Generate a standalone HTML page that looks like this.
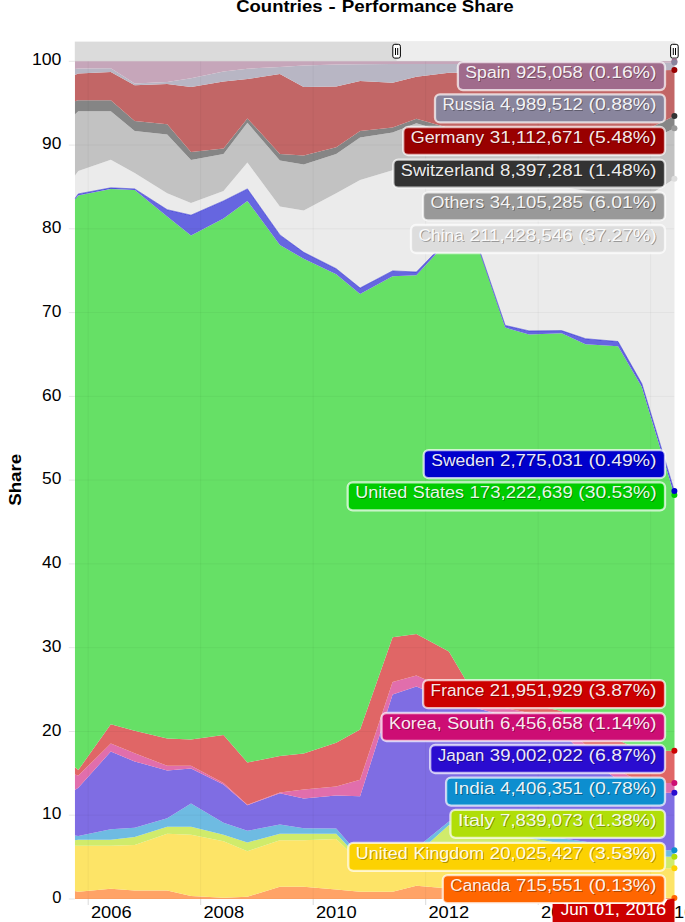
<!DOCTYPE html>
<html><head><meta charset="utf-8"><title>Countries - Performance Share</title>
<style>html,body{margin:0;padding:0;background:#fff;overflow:hidden}svg{display:block}text{font-family:"Liberation Sans",sans-serif;}</style></head><body>
<svg width="685" height="922" viewBox="0 0 685 922">
<defs><clipPath id="cp"><rect x="74.8" y="41.6" width="599.7" height="857.4"/></clipPath>
<filter id="sh" x="-5%" y="-20%" width="110%" height="150%"><feGaussianBlur stdDeviation="0.6"/></filter>
</defs>
<rect width="685" height="922" fill="#fff"/>
<rect x="74.8" y="41.6" width="599.7" height="19.7" fill="#dbdbdb"/>
<rect x="396.6" y="41.6" width="277.9" height="19.7" fill="#ededed"/>
<g clip-path="url(#cp)">
<path d="M74.8,891.0 L78.3,891.7 L110.8,888.8 L134.7,890.6 L167.2,890.6 L191.0,896.0 L223.5,897.8 L247.4,896.7 L279.9,886.7 L303.7,886.7 L336.2,889.5 L360.1,891.7 L392.6,891.7 L416.4,885.8 L448.9,888.4 L472.8,889.5 L505.2,890.9 L529.1,892.0 L561.6,893.4 L585.5,894.5 L618.0,895.9 L641.8,897.0 L674.3,897.9 L675.5,897.9 L675.5,899.0 L674.3,899.0 L641.8,899.0 L618.0,899.0 L585.5,899.0 L561.6,899.0 L529.1,899.0 L505.2,899.0 L472.8,899.0 L448.9,899.0 L416.4,899.0 L392.6,899.0 L360.1,899.0 L336.2,899.0 L303.7,899.0 L279.9,899.0 L247.4,899.0 L223.5,899.0 L191.0,899.0 L167.2,899.0 L134.7,899.0 L110.8,899.0 L78.3,899.0 L74.8,899.0Z" fill="#ffa366"/>
<path d="M74.8,845.7 L78.3,845.7 L110.8,845.7 L134.7,845.1 L167.2,833.7 L191.0,834.8 L223.5,841.3 L247.4,851.2 L279.9,840.2 L303.7,840.2 L336.2,839.1 L360.1,862.0 L392.6,857.0 L416.4,857.0 L448.9,848.0 L472.8,850.5 L505.2,853.8 L529.1,856.3 L561.6,859.7 L585.5,862.2 L618.0,865.5 L641.8,868.0 L674.3,868.3 L675.5,868.3 L675.5,897.9 L674.3,897.9 L641.8,897.0 L618.0,895.9 L585.5,894.5 L561.6,893.4 L529.1,892.0 L505.2,890.9 L472.8,889.5 L448.9,888.4 L416.4,885.8 L392.6,891.7 L360.1,891.7 L336.2,889.5 L303.7,886.7 L279.9,886.7 L247.4,896.7 L223.5,897.8 L191.0,896.0 L167.2,890.6 L134.7,890.6 L110.8,888.8 L78.3,891.7 L74.8,891.0Z" fill="#fde467"/>
<path d="M74.8,840.2 L78.3,839.8 L110.8,839.8 L134.7,837.0 L167.2,826.7 L191.0,826.7 L223.5,834.8 L247.4,842.4 L279.9,833.7 L303.7,833.7 L336.2,833.7 L360.1,859.0 L392.6,853.0 L416.4,854.3 L448.9,825.0 L472.8,828.9 L505.2,834.2 L529.1,838.1 L561.6,843.5 L585.5,847.4 L618.0,852.7 L641.8,856.6 L674.3,856.8 L675.5,856.8 L675.5,868.3 L674.3,868.3 L641.8,868.0 L618.0,865.5 L585.5,862.2 L561.6,859.7 L529.1,856.3 L505.2,853.8 L472.8,850.5 L448.9,848.0 L416.4,857.0 L392.6,857.0 L360.1,862.0 L336.2,839.1 L303.7,840.2 L279.9,840.2 L247.4,851.2 L223.5,841.3 L191.0,834.8 L167.2,833.7 L134.7,845.1 L110.8,845.7 L78.3,845.7 L74.8,845.7Z" fill="#d0eb6b"/>
<path d="M74.8,835.4 L78.3,835.9 L110.8,829.3 L134.7,827.8 L167.2,818.3 L191.0,803.5 L223.5,822.7 L247.4,830.8 L279.9,824.5 L303.7,828.2 L336.2,828.6 L360.1,856.0 L392.6,850.0 L416.4,848.0 L448.9,821.6 L472.8,825.1 L505.2,829.9 L529.1,833.4 L561.6,838.2 L585.5,841.7 L618.0,846.5 L641.8,850.0 L674.3,850.2 L675.5,850.2 L675.5,856.8 L674.3,856.8 L641.8,856.6 L618.0,852.7 L585.5,847.4 L561.6,843.5 L529.1,838.1 L505.2,834.2 L472.8,828.9 L448.9,825.0 L416.4,854.3 L392.6,853.0 L360.1,859.0 L336.2,833.7 L303.7,833.7 L279.9,833.7 L247.4,842.4 L223.5,834.8 L191.0,826.7 L167.2,826.7 L134.7,837.0 L110.8,839.8 L78.3,839.8 L74.8,840.2Z" fill="#6ebbe2"/>
<path d="M74.8,789.9 L78.3,787.7 L110.8,751.6 L134.7,761.4 L167.2,770.6 L191.0,768.6 L223.5,784.4 L247.4,805.2 L279.9,793.2 L303.7,798.6 L336.2,795.4 L360.1,796.3 L392.6,694.6 L416.4,686.5 L448.9,700.0 L472.8,707.0 L505.2,716.0 L529.1,722.0 L561.6,732.0 L585.5,756.0 L618.0,780.0 L641.8,793.0 L674.3,792.7 L675.5,792.7 L675.5,850.2 L674.3,850.2 L641.8,850.0 L618.0,846.5 L585.5,841.7 L561.6,838.2 L529.1,833.4 L505.2,829.9 L472.8,825.1 L448.9,821.6 L416.4,848.0 L392.6,850.0 L360.1,856.0 L336.2,828.6 L303.7,828.2 L279.9,824.5 L247.4,830.8 L223.5,822.7 L191.0,803.5 L167.2,818.3 L134.7,827.8 L110.8,829.3 L78.3,835.9 L74.8,835.4Z" fill="#7f6de3"/>
<path d="M74.8,774.5 L78.3,775.6 L110.8,743.5 L134.7,753.3 L167.2,765.8 L191.0,765.8 L223.5,782.9 L247.4,804.8 L279.9,792.5 L303.7,789.5 L336.2,786.6 L360.1,779.8 L392.6,682.1 L416.4,675.5 L448.9,690.0 L472.8,700.0 L505.2,708.0 L529.1,713.0 L561.6,722.0 L585.5,745.0 L618.0,770.0 L641.8,783.0 L674.3,783.1 L675.5,783.1 L675.5,792.7 L674.3,792.7 L641.8,793.0 L618.0,780.0 L585.5,756.0 L561.6,732.0 L529.1,722.0 L505.2,716.0 L472.8,707.0 L448.9,700.0 L416.4,686.5 L392.6,694.6 L360.1,796.3 L336.2,795.4 L303.7,798.6 L279.9,793.2 L247.4,805.2 L223.5,784.4 L191.0,768.6 L167.2,770.6 L134.7,761.4 L110.8,751.6 L78.3,787.7 L74.8,789.9Z" fill="#e16eac"/>
<path d="M74.8,766.9 L78.3,770.0 L110.8,724.2 L134.7,730.8 L167.2,738.4 L191.0,739.5 L223.5,735.1 L247.4,762.5 L279.9,755.9 L303.7,753.5 L336.2,742.8 L360.1,729.5 L392.6,637.2 L416.4,633.9 L448.9,651.5 L472.8,692.0 L505.2,700.0 L529.1,704.0 L561.6,711.0 L585.5,725.0 L618.0,740.0 L641.8,751.0 L674.3,750.7 L675.5,750.7 L675.5,783.1 L674.3,783.1 L641.8,783.0 L618.0,770.0 L585.5,745.0 L561.6,722.0 L529.1,713.0 L505.2,708.0 L472.8,700.0 L448.9,690.0 L416.4,675.5 L392.6,682.1 L360.1,779.8 L336.2,786.6 L303.7,789.5 L279.9,792.5 L247.4,804.8 L223.5,782.9 L191.0,765.8 L167.2,765.8 L134.7,753.3 L110.8,743.5 L78.3,775.6 L74.8,774.5Z" fill="#e06666"/>
<path d="M74.8,199.8 L78.3,195.5 L110.8,188.9 L134.7,190.0 L167.2,216.5 L191.0,235.5 L223.5,218.5 L247.4,200.9 L279.9,245.0 L303.7,258.8 L336.2,274.2 L360.1,293.9 L392.6,276.3 L416.4,275.2 L448.9,240.0 L472.8,231.5 L505.2,327.6 L529.1,334.6 L561.6,333.3 L585.5,344.2 L618.0,346.3 L641.8,386.9 L674.3,495.0 L675.5,495.0 L675.5,750.7 L674.3,750.7 L641.8,751.0 L618.0,740.0 L585.5,725.0 L561.6,711.0 L529.1,704.0 L505.2,700.0 L472.8,692.0 L448.9,651.5 L416.4,633.9 L392.6,637.2 L360.1,729.5 L336.2,742.8 L303.7,753.5 L279.9,755.9 L247.4,762.5 L223.5,735.1 L191.0,739.5 L167.2,738.4 L134.7,730.8 L110.8,724.2 L78.3,770.0 L74.8,766.9Z" fill="#66e066"/>
<path d="M74.8,198.7 L78.3,193.9 L110.8,187.8 L134.7,188.9 L167.2,209.7 L191.0,215.2 L223.5,200.9 L247.4,188.9 L279.9,234.9 L303.7,252.3 L336.2,268.7 L360.1,288.0 L392.6,270.9 L416.4,272.0 L448.9,238.5 L472.8,230.5 L505.2,325.4 L529.1,330.9 L561.6,330.6 L585.5,338.7 L618.0,341.5 L641.8,383.6 L674.3,490.9 L675.5,490.9 L675.5,495.0 L674.3,495.0 L641.8,386.9 L618.0,346.3 L585.5,344.2 L561.6,333.3 L529.1,334.6 L505.2,327.6 L472.8,231.5 L448.9,240.0 L416.4,275.2 L392.6,276.3 L360.1,293.9 L336.2,274.2 L303.7,258.8 L279.9,245.0 L247.4,200.9 L223.5,218.5 L191.0,235.5 L167.2,216.5 L134.7,190.0 L110.8,188.9 L78.3,195.5 L74.8,199.8Z" fill="#6666e0"/>
<path d="M74.8,175.8 L78.3,170.9 L110.8,159.8 L134.7,172.9 L167.2,193.3 L191.0,203.1 L223.5,191.1 L247.4,162.6 L279.9,206.4 L303.7,210.4 L336.2,193.3 L360.1,180.1 L392.6,170.3 L416.4,162.6 L448.9,168.0 L472.8,171.9 L505.2,177.3 L529.1,181.3 L561.6,186.7 L585.5,190.7 L618.0,196.0 L641.8,200.0 L674.3,178.7 L675.5,178.7 L675.5,490.9 L674.3,490.9 L641.8,383.6 L618.0,341.5 L585.5,338.7 L561.6,330.6 L529.1,330.9 L505.2,325.4 L472.8,230.5 L448.9,238.5 L416.4,272.0 L392.6,270.9 L360.1,288.0 L336.2,268.7 L303.7,252.3 L279.9,234.9 L247.4,188.9 L223.5,200.9 L191.0,215.2 L167.2,209.7 L134.7,188.9 L110.8,187.8 L78.3,193.9 L74.8,198.7Z" fill="#ebebeb"/>
<path d="M74.8,114.4 L78.3,111.2 L110.8,111.2 L134.7,130.9 L167.2,134.6 L191.0,160.0 L223.5,153.9 L247.4,122.8 L279.9,160.4 L303.7,164.4 L336.2,153.9 L360.1,137.4 L392.6,132.4 L416.4,123.2 L448.9,133.0 L472.8,134.4 L505.2,136.2 L529.1,137.6 L561.6,139.4 L585.5,140.8 L618.0,142.6 L641.8,144.0 L674.3,128.3 L675.5,128.3 L675.5,178.7 L674.3,178.7 L641.8,200.0 L618.0,196.0 L585.5,190.7 L561.6,186.7 L529.1,181.3 L505.2,177.3 L472.8,171.9 L448.9,168.0 L416.4,162.6 L392.6,170.3 L360.1,180.1 L336.2,193.3 L303.7,210.4 L279.9,206.4 L247.4,162.6 L223.5,191.1 L191.0,203.1 L167.2,193.3 L134.7,172.9 L110.8,159.8 L78.3,170.9 L74.8,175.8Z" fill="#c2c2c2"/>
<path d="M74.8,101.3 L78.3,100.2 L110.8,100.2 L134.7,121.0 L167.2,124.3 L191.0,152.1 L223.5,148.4 L247.4,118.4 L279.9,153.9 L303.7,155.6 L336.2,147.3 L360.1,130.9 L392.6,127.6 L416.4,118.8 L448.9,128.0 L472.8,128.5 L505.2,129.2 L529.1,129.7 L561.6,130.3 L585.5,130.8 L618.0,131.5 L641.8,132.0 L674.3,115.9 L675.5,115.9 L675.5,128.3 L674.3,128.3 L641.8,144.0 L618.0,142.6 L585.5,140.8 L561.6,139.4 L529.1,137.6 L505.2,136.2 L472.8,134.4 L448.9,133.0 L416.4,123.2 L392.6,132.4 L360.1,137.4 L336.2,153.9 L303.7,164.4 L279.9,160.4 L247.4,122.8 L223.5,153.9 L191.0,160.0 L167.2,134.6 L134.7,130.9 L110.8,111.2 L78.3,111.2 L74.8,114.4Z" fill="#858585"/>
<path d="M74.8,75.0 L78.3,73.5 L110.8,72.0 L134.7,85.2 L167.2,84.0 L191.0,87.0 L223.5,81.6 L247.4,79.0 L279.9,73.9 L303.7,87.1 L336.2,86.6 L360.1,80.9 L392.6,82.7 L416.4,76.8 L448.9,72.8 L472.8,72.5 L505.2,72.1 L529.1,71.8 L561.6,71.5 L585.5,71.2 L618.0,70.8 L641.8,70.5 L674.3,70.0 L675.5,70.0 L675.5,115.9 L674.3,115.9 L641.8,132.0 L618.0,131.5 L585.5,130.8 L561.6,130.3 L529.1,129.7 L505.2,129.2 L472.8,128.5 L448.9,128.0 L416.4,118.8 L392.6,127.6 L360.1,130.9 L336.2,147.3 L303.7,155.6 L279.9,153.9 L247.4,118.4 L223.5,148.4 L191.0,152.1 L167.2,124.3 L134.7,121.0 L110.8,100.2 L78.3,100.2 L74.8,101.3Z" fill="#c26666"/>
<path d="M74.8,69.0 L78.3,68.5 L110.8,68.3 L134.7,83.5 L167.2,82.0 L191.0,78.3 L223.5,71.4 L247.4,68.7 L279.9,67.0 L303.7,65.5 L336.2,64.5 L360.1,64.2 L392.6,64.0 L416.4,64.0 L448.9,64.0 L472.8,63.9 L505.2,63.8 L529.1,63.7 L561.6,63.6 L585.5,63.5 L618.0,63.4 L641.8,63.3 L674.3,62.6 L675.5,62.6 L675.5,70.0 L674.3,70.0 L641.8,70.5 L618.0,70.8 L585.5,71.2 L561.6,71.5 L529.1,71.8 L505.2,72.1 L472.8,72.5 L448.9,72.8 L416.4,76.8 L392.6,82.7 L360.1,80.9 L336.2,86.6 L303.7,87.1 L279.9,73.9 L247.4,79.0 L223.5,81.6 L191.0,87.0 L167.2,84.0 L134.7,85.2 L110.8,72.0 L78.3,73.5 L74.8,75.0Z" fill="#b8b6c4"/>
<path d="M74.8,61.3 L78.3,61.3 L110.8,61.3 L134.7,61.3 L167.2,61.3 L191.0,61.3 L223.5,61.3 L247.4,61.3 L279.9,61.3 L303.7,61.3 L336.2,61.3 L360.1,61.3 L392.6,61.3 L416.4,61.3 L448.9,61.3 L472.8,61.3 L505.2,61.3 L529.1,61.3 L561.6,61.3 L585.5,61.3 L618.0,61.3 L641.8,61.3 L674.3,61.3 L675.5,61.3 L675.5,62.6 L674.3,62.6 L641.8,63.3 L618.0,63.4 L585.5,63.5 L561.6,63.6 L529.1,63.7 L505.2,63.8 L472.8,63.9 L448.9,64.0 L416.4,64.0 L392.6,64.0 L360.1,64.2 L336.2,64.5 L303.7,65.5 L279.9,67.0 L247.4,68.7 L223.5,71.4 L191.0,78.3 L167.2,82.0 L134.7,83.5 L110.8,68.3 L78.3,68.5 L74.8,69.0Z" fill="#c6a6ba"/>
<path d="M74.8,198.7 L78.3,193.9 L110.8,187.8 L134.7,188.9 L167.2,209.7 L191.0,215.2 L223.5,200.9 L247.4,188.9 L279.9,234.9 L303.7,252.3 L336.2,268.7 L360.1,288.0 L392.6,270.9 L416.4,272.0 L448.9,238.5 L472.8,230.5 L505.2,325.4 L529.1,330.9 L561.6,330.6 L585.5,338.7 L618.0,341.5 L641.8,383.6 L674.3,490.9" fill="none" stroke="#0000CC" stroke-opacity="0.45" stroke-width="1"/>
<line x1="88.2" y1="61.3" x2="88.2" y2="899.0" stroke="#000" stroke-opacity="0.04" stroke-width="1"/>
<line x1="200.7" y1="61.3" x2="200.7" y2="899.0" stroke="#000" stroke-opacity="0.04" stroke-width="1"/>
<line x1="313.2" y1="61.3" x2="313.2" y2="899.0" stroke="#000" stroke-opacity="0.04" stroke-width="1"/>
<line x1="425.7" y1="61.3" x2="425.7" y2="899.0" stroke="#000" stroke-opacity="0.04" stroke-width="1"/>
<line x1="538.2" y1="61.3" x2="538.2" y2="899.0" stroke="#000" stroke-opacity="0.04" stroke-width="1"/>
<line x1="650.7" y1="61.3" x2="650.7" y2="899.0" stroke="#000" stroke-opacity="0.04" stroke-width="1"/>
<line x1="74.8" y1="899.0" x2="674.5" y2="899.0" stroke="#000" stroke-opacity="0.04" stroke-width="1"/>
<line x1="74.8" y1="815.2" x2="674.5" y2="815.2" stroke="#000" stroke-opacity="0.04" stroke-width="1"/>
<line x1="74.8" y1="731.5" x2="674.5" y2="731.5" stroke="#000" stroke-opacity="0.04" stroke-width="1"/>
<line x1="74.8" y1="647.7" x2="674.5" y2="647.7" stroke="#000" stroke-opacity="0.04" stroke-width="1"/>
<line x1="74.8" y1="563.9" x2="674.5" y2="563.9" stroke="#000" stroke-opacity="0.04" stroke-width="1"/>
<line x1="74.8" y1="480.1" x2="674.5" y2="480.1" stroke="#000" stroke-opacity="0.04" stroke-width="1"/>
<line x1="74.8" y1="396.4" x2="674.5" y2="396.4" stroke="#000" stroke-opacity="0.04" stroke-width="1"/>
<line x1="74.8" y1="312.6" x2="674.5" y2="312.6" stroke="#000" stroke-opacity="0.04" stroke-width="1"/>
<line x1="74.8" y1="228.8" x2="674.5" y2="228.8" stroke="#000" stroke-opacity="0.04" stroke-width="1"/>
<line x1="74.8" y1="145.1" x2="674.5" y2="145.1" stroke="#000" stroke-opacity="0.04" stroke-width="1"/>
<line x1="74.8" y1="61.3" x2="674.5" y2="61.3" stroke="#000" stroke-opacity="0.04" stroke-width="1"/>
</g>
<line x1="68.8" y1="899.0" x2="74.8" y2="899.0" stroke="#000" stroke-opacity="0.1"/>
<text x="61.4" y="903.1" font-size="16" text-anchor="end" fill="#000" textLength="9.2" lengthAdjust="spacingAndGlyphs">0</text>
<line x1="68.8" y1="815.2" x2="74.8" y2="815.2" stroke="#000" stroke-opacity="0.1"/>
<text x="61.4" y="819.3" font-size="16" text-anchor="end" fill="#000" textLength="19.3" lengthAdjust="spacingAndGlyphs">10</text>
<line x1="68.8" y1="731.5" x2="74.8" y2="731.5" stroke="#000" stroke-opacity="0.1"/>
<text x="61.4" y="735.6" font-size="16" text-anchor="end" fill="#000" textLength="19.3" lengthAdjust="spacingAndGlyphs">20</text>
<line x1="68.8" y1="647.7" x2="74.8" y2="647.7" stroke="#000" stroke-opacity="0.1"/>
<text x="61.4" y="651.8" font-size="16" text-anchor="end" fill="#000" textLength="19.3" lengthAdjust="spacingAndGlyphs">30</text>
<line x1="68.8" y1="563.9" x2="74.8" y2="563.9" stroke="#000" stroke-opacity="0.1"/>
<text x="61.4" y="568.0" font-size="16" text-anchor="end" fill="#000" textLength="19.3" lengthAdjust="spacingAndGlyphs">40</text>
<line x1="68.8" y1="480.1" x2="74.8" y2="480.1" stroke="#000" stroke-opacity="0.1"/>
<text x="61.4" y="484.2" font-size="16" text-anchor="end" fill="#000" textLength="19.3" lengthAdjust="spacingAndGlyphs">50</text>
<line x1="68.8" y1="396.4" x2="74.8" y2="396.4" stroke="#000" stroke-opacity="0.1"/>
<text x="61.4" y="400.5" font-size="16" text-anchor="end" fill="#000" textLength="19.3" lengthAdjust="spacingAndGlyphs">60</text>
<line x1="68.8" y1="312.6" x2="74.8" y2="312.6" stroke="#000" stroke-opacity="0.1"/>
<text x="61.4" y="316.7" font-size="16" text-anchor="end" fill="#000" textLength="19.3" lengthAdjust="spacingAndGlyphs">70</text>
<line x1="68.8" y1="228.8" x2="74.8" y2="228.8" stroke="#000" stroke-opacity="0.1"/>
<text x="61.4" y="232.9" font-size="16" text-anchor="end" fill="#000" textLength="19.3" lengthAdjust="spacingAndGlyphs">80</text>
<line x1="68.8" y1="145.1" x2="74.8" y2="145.1" stroke="#000" stroke-opacity="0.1"/>
<text x="61.4" y="149.2" font-size="16" text-anchor="end" fill="#000" textLength="19.3" lengthAdjust="spacingAndGlyphs">90</text>
<line x1="68.8" y1="61.3" x2="74.8" y2="61.3" stroke="#000" stroke-opacity="0.1"/>
<text x="61.4" y="65.4" font-size="16" text-anchor="end" fill="#000" textLength="29.5" lengthAdjust="spacingAndGlyphs">100</text>
<line x1="88.2" y1="899.0" x2="88.2" y2="905.0" stroke="#000" stroke-opacity="0.15"/>
<text x="111.3" y="918.0" font-size="16" text-anchor="middle" fill="#000" textLength="40.7" lengthAdjust="spacingAndGlyphs">2006</text>
<line x1="200.7" y1="899.0" x2="200.7" y2="905.0" stroke="#000" stroke-opacity="0.15"/>
<text x="223.8" y="918.0" font-size="16" text-anchor="middle" fill="#000" textLength="40.7" lengthAdjust="spacingAndGlyphs">2008</text>
<line x1="313.2" y1="899.0" x2="313.2" y2="905.0" stroke="#000" stroke-opacity="0.15"/>
<text x="336.3" y="918.0" font-size="16" text-anchor="middle" fill="#000" textLength="40.7" lengthAdjust="spacingAndGlyphs">2010</text>
<line x1="425.7" y1="899.0" x2="425.7" y2="905.0" stroke="#000" stroke-opacity="0.15"/>
<text x="448.8" y="918.0" font-size="16" text-anchor="middle" fill="#000" textLength="40.7" lengthAdjust="spacingAndGlyphs">2012</text>
<line x1="538.2" y1="899.0" x2="538.2" y2="905.0" stroke="#000" stroke-opacity="0.15"/>
<text x="561.4" y="918.0" font-size="16" text-anchor="middle" fill="#000" textLength="40.7" lengthAdjust="spacingAndGlyphs">2014</text>
<line x1="650.7" y1="899.0" x2="650.7" y2="905.0" stroke="#000" stroke-opacity="0.15"/>
<text x="673.9" y="918.0" font-size="16" text-anchor="middle" fill="#000" textLength="40.7" lengthAdjust="spacingAndGlyphs">2016</text>
<rect x="392.8" y="44.3" width="7.6" height="13.8" rx="2" ry="2" fill="#fff" stroke="#000" stroke-width="1"/>
<path d="M395.5 48v7M397.7 48v7" stroke="#000" stroke-width="1"/>
<rect x="670.6" y="44.3" width="7.6" height="13.8" rx="2" ry="2" fill="#fff" stroke="#000" stroke-width="1"/>
<path d="M673.3 48v7M675.5 48v7" stroke="#000" stroke-width="1"/>
<text x="236.2" y="12" font-size="16" font-weight="bold" fill="#000" textLength="86.3" lengthAdjust="spacingAndGlyphs">Countries</text>
<text x="328.4" y="12" font-size="16" font-weight="bold" fill="#000" textLength="7.2" lengthAdjust="spacingAndGlyphs">-</text>
<text x="341.8" y="12" font-size="16" font-weight="bold" fill="#000" textLength="115.0" lengthAdjust="spacingAndGlyphs">Performance</text>
<text x="461.8" y="12" font-size="16" font-weight="bold" fill="#000" textLength="51.9" lengthAdjust="spacingAndGlyphs">Share</text>
<text transform="translate(21,479.8) rotate(-90)" font-size="16" font-weight="bold" text-anchor="middle" fill="#000" textLength="52" lengthAdjust="spacingAndGlyphs">Share</text>
<circle cx="674.4" cy="897.9" r="3" fill="#FF6600"/>
<circle cx="674.4" cy="868.3" r="3" fill="#FCD202"/>
<circle cx="674.4" cy="856.8" r="3" fill="#B0DE09"/>
<circle cx="674.4" cy="850.2" r="3" fill="#0D8ECF"/>
<circle cx="674.4" cy="792.7" r="3" fill="#2A0CD0"/>
<circle cx="674.4" cy="783.1" r="3" fill="#CD0D74"/>
<circle cx="674.4" cy="750.7" r="3" fill="#CC0000"/>
<circle cx="674.4" cy="495.0" r="3" fill="#00CC00"/>
<circle cx="674.4" cy="490.9" r="3" fill="#0000CC"/>
<circle cx="674.4" cy="178.7" r="3" fill="#DDDDDD"/>
<circle cx="674.4" cy="128.3" r="3" fill="#999999"/>
<circle cx="674.4" cy="115.9" r="3" fill="#333333"/>
<circle cx="674.4" cy="70.0" r="3" fill="#990000"/>
<circle cx="674.4" cy="61.3" r="3" fill="#a06b8c"/>
<circle cx="674.4" cy="62.6" r="3" fill="#89859d"/>
<rect x="457.9" y="62.1" width="207.1" height="28.0" rx="5" ry="5" fill="#a06b8c" fill-opacity="1" stroke="#fff" stroke-opacity="0.7" stroke-width="2.3"/>
<text x="466.39" y="79.1" font-size="16" fill="#000" textLength="45.03" lengthAdjust="spacingAndGlyphs" fill-opacity="0.3" filter="url(#sh)">Spain</text>
<text x="517.04" y="79.1" font-size="16" fill="#000" textLength="66.85" lengthAdjust="spacingAndGlyphs" fill-opacity="0.3" filter="url(#sh)">925,058</text>
<text x="589.52" y="79.1" font-size="16" fill="#000" textLength="68.08" lengthAdjust="spacingAndGlyphs" fill-opacity="0.3" filter="url(#sh)">(0.16%)</text>
<text x="465.39" y="78.1" font-size="16" fill="#fff" textLength="45.03" lengthAdjust="spacingAndGlyphs" fill-opacity="0.93">Spain</text>
<text x="516.04" y="78.1" font-size="16" fill="#fff" textLength="66.85" lengthAdjust="spacingAndGlyphs" fill-opacity="0.93">925,058</text>
<text x="588.52" y="78.1" font-size="16" fill="#fff" textLength="68.08" lengthAdjust="spacingAndGlyphs" fill-opacity="0.93">(0.16%)</text>
<rect x="435.0" y="94.4" width="230.0" height="28.0" rx="5" ry="5" fill="#89859d" fill-opacity="1" stroke="#fff" stroke-opacity="0.7" stroke-width="2.3"/>
<text x="443.51" y="111.4" font-size="16" fill="#000" textLength="51.91" lengthAdjust="spacingAndGlyphs" fill-opacity="0.3" filter="url(#sh)">Russia</text>
<text x="501.05" y="111.4" font-size="16" fill="#000" textLength="82.84" lengthAdjust="spacingAndGlyphs" fill-opacity="0.3" filter="url(#sh)">4,989,512</text>
<text x="589.52" y="111.4" font-size="16" fill="#000" textLength="68.08" lengthAdjust="spacingAndGlyphs" fill-opacity="0.3" filter="url(#sh)">(0.88%)</text>
<text x="442.51" y="110.4" font-size="16" fill="#fff" textLength="51.91" lengthAdjust="spacingAndGlyphs" fill-opacity="0.93">Russia</text>
<text x="500.05" y="110.4" font-size="16" fill="#fff" textLength="82.84" lengthAdjust="spacingAndGlyphs" fill-opacity="0.93">4,989,512</text>
<text x="588.52" y="110.4" font-size="16" fill="#fff" textLength="68.08" lengthAdjust="spacingAndGlyphs" fill-opacity="0.93">(0.88%)</text>
<rect x="403.2" y="127.0" width="261.8" height="28.0" rx="5" ry="5" fill="#990000" fill-opacity="1" stroke="#fff" stroke-opacity="0.7" stroke-width="2.3"/>
<text x="411.72" y="144.0" font-size="16" fill="#000" textLength="73.53" lengthAdjust="spacingAndGlyphs" fill-opacity="0.3" filter="url(#sh)">Germany</text>
<text x="490.88" y="144.0" font-size="16" fill="#000" textLength="93.01" lengthAdjust="spacingAndGlyphs" fill-opacity="0.3" filter="url(#sh)">31,112,671</text>
<text x="589.52" y="144.0" font-size="16" fill="#000" textLength="68.08" lengthAdjust="spacingAndGlyphs" fill-opacity="0.3" filter="url(#sh)">(5.48%)</text>
<text x="410.72" y="143.0" font-size="16" fill="#fff" textLength="73.53" lengthAdjust="spacingAndGlyphs" fill-opacity="0.93">Germany</text>
<text x="489.88" y="143.0" font-size="16" fill="#fff" textLength="93.01" lengthAdjust="spacingAndGlyphs" fill-opacity="0.93">31,112,671</text>
<text x="588.52" y="143.0" font-size="16" fill="#fff" textLength="68.08" lengthAdjust="spacingAndGlyphs" fill-opacity="0.93">(5.48%)</text>
<rect x="393.3" y="159.7" width="271.7" height="28.0" rx="5" ry="5" fill="#333333" fill-opacity="1" stroke="#fff" stroke-opacity="0.7" stroke-width="2.3"/>
<text x="401.84" y="176.7" font-size="16" fill="#000" textLength="93.59" lengthAdjust="spacingAndGlyphs" fill-opacity="0.3" filter="url(#sh)">Switzerland</text>
<text x="501.05" y="176.7" font-size="16" fill="#000" textLength="82.84" lengthAdjust="spacingAndGlyphs" fill-opacity="0.3" filter="url(#sh)">8,397,281</text>
<text x="589.52" y="176.7" font-size="16" fill="#000" textLength="68.08" lengthAdjust="spacingAndGlyphs" fill-opacity="0.3" filter="url(#sh)">(1.48%)</text>
<text x="400.84" y="175.7" font-size="16" fill="#fff" textLength="93.59" lengthAdjust="spacingAndGlyphs" fill-opacity="0.93">Switzerland</text>
<text x="500.05" y="175.7" font-size="16" fill="#fff" textLength="82.84" lengthAdjust="spacingAndGlyphs" fill-opacity="0.93">8,397,281</text>
<text x="588.52" y="175.7" font-size="16" fill="#fff" textLength="68.08" lengthAdjust="spacingAndGlyphs" fill-opacity="0.93">(1.48%)</text>
<rect x="423.0" y="192.4" width="242.0" height="28.0" rx="5" ry="5" fill="#999999" fill-opacity="1" stroke="#fff" stroke-opacity="0.7" stroke-width="2.3"/>
<text x="431.53" y="209.4" font-size="16" fill="#000" textLength="53.72" lengthAdjust="spacingAndGlyphs" fill-opacity="0.3" filter="url(#sh)">Others</text>
<text x="490.88" y="209.4" font-size="16" fill="#000" textLength="93.01" lengthAdjust="spacingAndGlyphs" fill-opacity="0.3" filter="url(#sh)">34,105,285</text>
<text x="589.52" y="209.4" font-size="16" fill="#000" textLength="68.08" lengthAdjust="spacingAndGlyphs" fill-opacity="0.3" filter="url(#sh)">(6.01%)</text>
<text x="430.53" y="208.4" font-size="16" fill="#fff" textLength="53.72" lengthAdjust="spacingAndGlyphs" fill-opacity="0.93">Others</text>
<text x="489.88" y="208.4" font-size="16" fill="#fff" textLength="93.01" lengthAdjust="spacingAndGlyphs" fill-opacity="0.93">34,105,285</text>
<text x="588.52" y="208.4" font-size="16" fill="#fff" textLength="68.08" lengthAdjust="spacingAndGlyphs" fill-opacity="0.93">(6.01%)</text>
<rect x="411.0" y="225.0" width="254.0" height="28.0" rx="5" ry="5" fill="#DDDDDD" fill-opacity="1" stroke="#fff" stroke-opacity="0.7" stroke-width="2.3"/>
<text x="419.49" y="242.0" font-size="16" fill="#000" textLength="45.42" lengthAdjust="spacingAndGlyphs" fill-opacity="0.3" filter="url(#sh)">China</text>
<text x="470.54" y="242.0" font-size="16" fill="#000" textLength="103.18" lengthAdjust="spacingAndGlyphs" fill-opacity="0.3" filter="url(#sh)">211,428,546</text>
<text x="579.34" y="242.0" font-size="16" fill="#000" textLength="78.26" lengthAdjust="spacingAndGlyphs" fill-opacity="0.3" filter="url(#sh)">(37.27%)</text>
<text x="418.49" y="241.0" font-size="16" fill="#fff" textLength="45.42" lengthAdjust="spacingAndGlyphs" fill-opacity="0.93">China</text>
<text x="469.54" y="241.0" font-size="16" fill="#fff" textLength="103.18" lengthAdjust="spacingAndGlyphs" fill-opacity="0.93">211,428,546</text>
<text x="578.34" y="241.0" font-size="16" fill="#fff" textLength="78.26" lengthAdjust="spacingAndGlyphs" fill-opacity="0.93">(37.27%)</text>
<rect x="423.7" y="450.2" width="241.3" height="28.0" rx="5" ry="5" fill="#0000CC" fill-opacity="1" stroke="#fff" stroke-opacity="0.7" stroke-width="2.3"/>
<text x="432.24" y="467.2" font-size="16" fill="#000" textLength="63.19" lengthAdjust="spacingAndGlyphs" fill-opacity="0.3" filter="url(#sh)">Sweden</text>
<text x="501.05" y="467.2" font-size="16" fill="#000" textLength="82.84" lengthAdjust="spacingAndGlyphs" fill-opacity="0.3" filter="url(#sh)">2,775,031</text>
<text x="589.52" y="467.2" font-size="16" fill="#000" textLength="68.08" lengthAdjust="spacingAndGlyphs" fill-opacity="0.3" filter="url(#sh)">(0.49%)</text>
<text x="431.24" y="466.2" font-size="16" fill="#fff" textLength="63.19" lengthAdjust="spacingAndGlyphs" fill-opacity="0.93">Sweden</text>
<text x="500.05" y="466.2" font-size="16" fill="#fff" textLength="82.84" lengthAdjust="spacingAndGlyphs" fill-opacity="0.93">2,775,031</text>
<text x="588.52" y="466.2" font-size="16" fill="#fff" textLength="68.08" lengthAdjust="spacingAndGlyphs" fill-opacity="0.93">(0.49%)</text>
<rect x="347.7" y="482.3" width="317.3" height="28.0" rx="5" ry="5" fill="#00CC00" fill-opacity="1" stroke="#fff" stroke-opacity="0.7" stroke-width="2.3"/>
<text x="356.23" y="499.3" font-size="16" fill="#000" textLength="52.03" lengthAdjust="spacingAndGlyphs" fill-opacity="0.3" filter="url(#sh)">United</text>
<text x="413.89" y="499.3" font-size="16" fill="#000" textLength="51.02" lengthAdjust="spacingAndGlyphs" fill-opacity="0.3" filter="url(#sh)">States</text>
<text x="470.54" y="499.3" font-size="16" fill="#000" textLength="103.18" lengthAdjust="spacingAndGlyphs" fill-opacity="0.3" filter="url(#sh)">173,222,639</text>
<text x="579.34" y="499.3" font-size="16" fill="#000" textLength="78.26" lengthAdjust="spacingAndGlyphs" fill-opacity="0.3" filter="url(#sh)">(30.53%)</text>
<text x="355.23" y="498.3" font-size="16" fill="#fff" textLength="52.03" lengthAdjust="spacingAndGlyphs" fill-opacity="0.93">United</text>
<text x="412.89" y="498.3" font-size="16" fill="#fff" textLength="51.02" lengthAdjust="spacingAndGlyphs" fill-opacity="0.93">States</text>
<text x="469.54" y="498.3" font-size="16" fill="#fff" textLength="103.18" lengthAdjust="spacingAndGlyphs" fill-opacity="0.93">173,222,639</text>
<text x="578.34" y="498.3" font-size="16" fill="#fff" textLength="78.26" lengthAdjust="spacingAndGlyphs" fill-opacity="0.93">(30.53%)</text>
<rect x="423.1" y="680.2" width="241.9" height="28.0" rx="5" ry="5" fill="#CC0000" fill-opacity="1" stroke="#fff" stroke-opacity="0.7" stroke-width="2.3"/>
<text x="431.63" y="697.2" font-size="16" fill="#000" textLength="53.63" lengthAdjust="spacingAndGlyphs" fill-opacity="0.3" filter="url(#sh)">France</text>
<text x="490.88" y="697.2" font-size="16" fill="#000" textLength="93.01" lengthAdjust="spacingAndGlyphs" fill-opacity="0.3" filter="url(#sh)">21,951,929</text>
<text x="589.52" y="697.2" font-size="16" fill="#000" textLength="68.08" lengthAdjust="spacingAndGlyphs" fill-opacity="0.3" filter="url(#sh)">(3.87%)</text>
<text x="430.63" y="696.2" font-size="16" fill="#fff" textLength="53.63" lengthAdjust="spacingAndGlyphs" fill-opacity="0.93">France</text>
<text x="489.88" y="696.2" font-size="16" fill="#fff" textLength="93.01" lengthAdjust="spacingAndGlyphs" fill-opacity="0.93">21,951,929</text>
<text x="588.52" y="696.2" font-size="16" fill="#fff" textLength="68.08" lengthAdjust="spacingAndGlyphs" fill-opacity="0.93">(3.87%)</text>
<rect x="381.5" y="713.0" width="283.5" height="28.0" rx="5" ry="5" fill="#CD0D74" fill-opacity="1" stroke="#fff" stroke-opacity="0.7" stroke-width="2.3"/>
<text x="390.01" y="730.0" font-size="16" fill="#000" textLength="52.59" lengthAdjust="spacingAndGlyphs" fill-opacity="0.3" filter="url(#sh)">Korea,</text>
<text x="448.22" y="730.0" font-size="16" fill="#000" textLength="47.20" lengthAdjust="spacingAndGlyphs" fill-opacity="0.3" filter="url(#sh)">South</text>
<text x="501.05" y="730.0" font-size="16" fill="#000" textLength="82.84" lengthAdjust="spacingAndGlyphs" fill-opacity="0.3" filter="url(#sh)">6,456,658</text>
<text x="589.52" y="730.0" font-size="16" fill="#000" textLength="68.08" lengthAdjust="spacingAndGlyphs" fill-opacity="0.3" filter="url(#sh)">(1.14%)</text>
<text x="389.01" y="729.0" font-size="16" fill="#fff" textLength="52.59" lengthAdjust="spacingAndGlyphs" fill-opacity="0.93">Korea,</text>
<text x="447.22" y="729.0" font-size="16" fill="#fff" textLength="47.20" lengthAdjust="spacingAndGlyphs" fill-opacity="0.93">South</text>
<text x="500.05" y="729.0" font-size="16" fill="#fff" textLength="82.84" lengthAdjust="spacingAndGlyphs" fill-opacity="0.93">6,456,658</text>
<text x="588.52" y="729.0" font-size="16" fill="#fff" textLength="68.08" lengthAdjust="spacingAndGlyphs" fill-opacity="0.93">(1.14%)</text>
<rect x="430.2" y="745.0" width="234.8" height="28.0" rx="5" ry="5" fill="#2A0CD0" fill-opacity="1" stroke="#fff" stroke-opacity="0.7" stroke-width="2.3"/>
<text x="438.67" y="762.0" font-size="16" fill="#000" textLength="46.59" lengthAdjust="spacingAndGlyphs" fill-opacity="0.3" filter="url(#sh)">Japan</text>
<text x="490.88" y="762.0" font-size="16" fill="#000" textLength="93.01" lengthAdjust="spacingAndGlyphs" fill-opacity="0.3" filter="url(#sh)">39,002,022</text>
<text x="589.52" y="762.0" font-size="16" fill="#000" textLength="68.08" lengthAdjust="spacingAndGlyphs" fill-opacity="0.3" filter="url(#sh)">(6.87%)</text>
<text x="437.67" y="761.0" font-size="16" fill="#fff" textLength="46.59" lengthAdjust="spacingAndGlyphs" fill-opacity="0.93">Japan</text>
<text x="489.88" y="761.0" font-size="16" fill="#fff" textLength="93.01" lengthAdjust="spacingAndGlyphs" fill-opacity="0.93">39,002,022</text>
<text x="588.52" y="761.0" font-size="16" fill="#fff" textLength="68.08" lengthAdjust="spacingAndGlyphs" fill-opacity="0.93">(6.87%)</text>
<rect x="446.1" y="777.6" width="218.9" height="28.0" rx="5" ry="5" fill="#0D8ECF" fill-opacity="1" stroke="#fff" stroke-opacity="0.7" stroke-width="2.3"/>
<text x="454.60" y="794.6" font-size="16" fill="#000" textLength="40.83" lengthAdjust="spacingAndGlyphs" fill-opacity="0.3" filter="url(#sh)">India</text>
<text x="501.05" y="794.6" font-size="16" fill="#000" textLength="82.84" lengthAdjust="spacingAndGlyphs" fill-opacity="0.3" filter="url(#sh)">4,406,351</text>
<text x="589.52" y="794.6" font-size="16" fill="#000" textLength="68.08" lengthAdjust="spacingAndGlyphs" fill-opacity="0.3" filter="url(#sh)">(0.78%)</text>
<text x="453.60" y="793.6" font-size="16" fill="#fff" textLength="40.83" lengthAdjust="spacingAndGlyphs" fill-opacity="0.93">India</text>
<text x="500.05" y="793.6" font-size="16" fill="#fff" textLength="82.84" lengthAdjust="spacingAndGlyphs" fill-opacity="0.93">4,406,351</text>
<text x="588.52" y="793.6" font-size="16" fill="#fff" textLength="68.08" lengthAdjust="spacingAndGlyphs" fill-opacity="0.93">(0.78%)</text>
<rect x="450.4" y="809.8" width="214.6" height="28.0" rx="5" ry="5" fill="#B0DE09" fill-opacity="1" stroke="#fff" stroke-opacity="0.7" stroke-width="2.3"/>
<text x="458.92" y="826.8" font-size="16" fill="#000" textLength="36.51" lengthAdjust="spacingAndGlyphs" fill-opacity="0.3" filter="url(#sh)">Italy</text>
<text x="501.05" y="826.8" font-size="16" fill="#000" textLength="82.84" lengthAdjust="spacingAndGlyphs" fill-opacity="0.3" filter="url(#sh)">7,839,073</text>
<text x="589.52" y="826.8" font-size="16" fill="#000" textLength="68.08" lengthAdjust="spacingAndGlyphs" fill-opacity="0.3" filter="url(#sh)">(1.38%)</text>
<text x="457.92" y="825.8" font-size="16" fill="#fff" textLength="36.51" lengthAdjust="spacingAndGlyphs" fill-opacity="0.93">Italy</text>
<text x="500.05" y="825.8" font-size="16" fill="#fff" textLength="82.84" lengthAdjust="spacingAndGlyphs" fill-opacity="0.93">7,839,073</text>
<text x="588.52" y="825.8" font-size="16" fill="#fff" textLength="68.08" lengthAdjust="spacingAndGlyphs" fill-opacity="0.93">(1.38%)</text>
<rect x="348.3" y="842.8" width="316.7" height="28.0" rx="5" ry="5" fill="#FCD202" fill-opacity="1" stroke="#fff" stroke-opacity="0.7" stroke-width="2.3"/>
<text x="356.79" y="859.8" font-size="16" fill="#000" textLength="52.03" lengthAdjust="spacingAndGlyphs" fill-opacity="0.3" filter="url(#sh)">United</text>
<text x="414.44" y="859.8" font-size="16" fill="#000" textLength="70.81" lengthAdjust="spacingAndGlyphs" fill-opacity="0.3" filter="url(#sh)">Kingdom</text>
<text x="490.88" y="859.8" font-size="16" fill="#000" textLength="93.01" lengthAdjust="spacingAndGlyphs" fill-opacity="0.3" filter="url(#sh)">20,025,427</text>
<text x="589.52" y="859.8" font-size="16" fill="#000" textLength="68.08" lengthAdjust="spacingAndGlyphs" fill-opacity="0.3" filter="url(#sh)">(3.53%)</text>
<text x="355.79" y="858.8" font-size="16" fill="#fff" textLength="52.03" lengthAdjust="spacingAndGlyphs" fill-opacity="0.93">United</text>
<text x="413.44" y="858.8" font-size="16" fill="#fff" textLength="70.81" lengthAdjust="spacingAndGlyphs" fill-opacity="0.93">Kingdom</text>
<text x="489.88" y="858.8" font-size="16" fill="#fff" textLength="93.01" lengthAdjust="spacingAndGlyphs" fill-opacity="0.93">20,025,427</text>
<text x="588.52" y="858.8" font-size="16" fill="#fff" textLength="68.08" lengthAdjust="spacingAndGlyphs" fill-opacity="0.93">(3.53%)</text>
<rect x="442.8" y="875.2" width="222.2" height="28.0" rx="5" ry="5" fill="#FF6600" fill-opacity="1" stroke="#fff" stroke-opacity="0.7" stroke-width="2.3"/>
<text x="451.32" y="892.2" font-size="16" fill="#000" textLength="60.09" lengthAdjust="spacingAndGlyphs" fill-opacity="0.3" filter="url(#sh)">Canada</text>
<text x="517.04" y="892.2" font-size="16" fill="#000" textLength="66.85" lengthAdjust="spacingAndGlyphs" fill-opacity="0.3" filter="url(#sh)">715,551</text>
<text x="589.52" y="892.2" font-size="16" fill="#000" textLength="68.08" lengthAdjust="spacingAndGlyphs" fill-opacity="0.3" filter="url(#sh)">(0.13%)</text>
<text x="450.32" y="891.2" font-size="16" fill="#fff" textLength="60.09" lengthAdjust="spacingAndGlyphs" fill-opacity="0.93">Canada</text>
<text x="516.04" y="891.2" font-size="16" fill="#fff" textLength="66.85" lengthAdjust="spacingAndGlyphs" fill-opacity="0.93">715,551</text>
<text x="588.52" y="891.2" font-size="16" fill="#fff" textLength="68.08" lengthAdjust="spacingAndGlyphs" fill-opacity="0.93">(0.13%)</text>
<path d="M552.6,904 L664.5,904 L667.5,899.6 L674.5,898.6 L674.5,922 L552.6,922 Z" fill="#CC0000"/>
<text x="560.68" y="915.3" font-size="16" fill="#fff" textLength="27.52" lengthAdjust="spacingAndGlyphs">Jun</text>
<text x="593.83" y="915.3" font-size="16" fill="#fff" textLength="26.16" lengthAdjust="spacingAndGlyphs">01,</text>
<text x="625.62" y="915.3" font-size="16" fill="#fff" textLength="40.68" lengthAdjust="spacingAndGlyphs">2016</text>
</svg></body></html>
